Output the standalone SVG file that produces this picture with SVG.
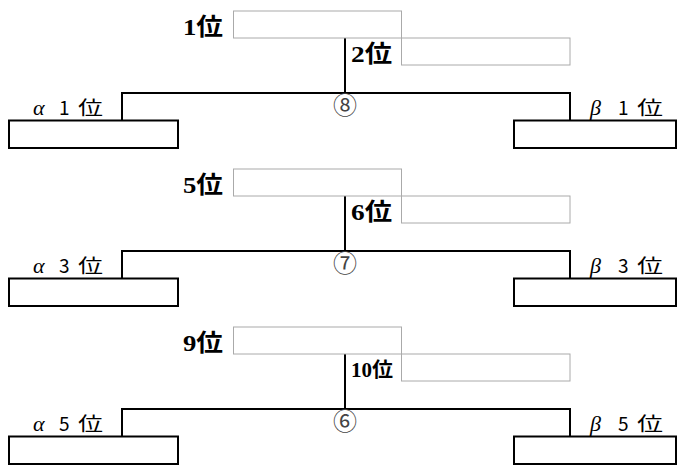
<svg xmlns="http://www.w3.org/2000/svg" width="681" height="466" viewBox="0 0 681 466">
<style>
.slot{fill:#fff;stroke:#aaa;stroke-width:1}
.team{fill:#fff;stroke:#000;stroke-width:2}
.conn{fill:none;stroke:#000;stroke-width:2}
.rk{font-family:"Liberation Serif","Noto Sans CJK JP",serif;font-size:24px;font-weight:bold;fill:#000}
.rks{font-family:"Liberation Serif","Noto Sans CJK JP",serif;font-size:20px;font-weight:bold;fill:#000}
.gr{font-family:"Liberation Serif","DejaVu Serif",serif;font-style:italic;font-size:22px;fill:#000}
.dg{font-family:"Noto Sans CJK JP",sans-serif;font-size:19px;fill:#000}
.cn{font-family:"Noto Sans CJK JP","DejaVu Sans",sans-serif;font-size:24px;fill:#444;text-anchor:middle}
</style>
<g id="connectors">
<path class="conn" d="M345,38 V93 M122,120 V93 H570 V120"/>
<path class="conn" d="M345,196 V251 M122,279 V251 H570 V279"/>
<path class="conn" d="M345,354 V409 M122,437 V409 H570 V437"/>
</g>
<!-- match 8 -->
<g id="slot1"><rect class="slot" x="233.5" y="11" width="168" height="27"/><text class="rk" x="183" y="35" textLength="40" lengthAdjust="spacingAndGlyphs">1位</text></g>
<g id="slot2"><rect class="slot" x="401.5" y="38" width="168.5" height="27"/><text class="rk" x="351" y="62" textLength="41" lengthAdjust="spacingAndGlyphs">2位</text></g>
<g id="alpha1"><rect class="team" x="9" y="120.5" width="169" height="27.5"/><text class="gr" x="33" y="115">α</text><text class="dg" x="59" y="115">1</text><text class="dg" x="78" y="115" textLength="25" lengthAdjust="spacingAndGlyphs">位</text></g>
<g id="beta1"><rect class="team" x="514" y="120.5" width="162" height="27.5"/><text class="gr" x="590" y="115">β</text><text class="dg" x="618" y="115">1</text><text class="dg" x="637" y="115" textLength="26" lengthAdjust="spacingAndGlyphs">位</text></g>
<g id="match8"><text class="cn" x="345" y="114">⑧</text></g>
<!-- match 7 -->
<g id="slot5"><rect class="slot" x="233.5" y="169" width="168" height="27"/><text class="rk" x="183" y="193" textLength="40" lengthAdjust="spacingAndGlyphs">5位</text></g>
<g id="slot6"><rect class="slot" x="401.5" y="196" width="168.5" height="27"/><text class="rk" x="351" y="220" textLength="41" lengthAdjust="spacingAndGlyphs">6位</text></g>
<g id="alpha3"><rect class="team" x="9" y="278.5" width="169" height="27.5"/><text class="gr" x="33" y="273">α</text><text class="dg" x="59" y="273">3</text><text class="dg" x="78" y="273" textLength="25" lengthAdjust="spacingAndGlyphs">位</text></g>
<g id="beta3"><rect class="team" x="514" y="278.5" width="162" height="27.5"/><text class="gr" x="590" y="273">β</text><text class="dg" x="618" y="273">3</text><text class="dg" x="637" y="273" textLength="26" lengthAdjust="spacingAndGlyphs">位</text></g>
<g id="match7"><text class="cn" x="345" y="272">⑦</text></g>
<!-- match 6 -->
<g id="slot9"><rect class="slot" x="233.5" y="327" width="168" height="27"/><text class="rk" x="183" y="351" textLength="40" lengthAdjust="spacingAndGlyphs">9位</text></g>
<g id="slot10"><rect class="slot" x="401.5" y="354" width="168.5" height="27"/><text class="rks" x="351" y="377" textLength="42" lengthAdjust="spacingAndGlyphs">10位</text></g>
<g id="alpha5"><rect class="team" x="9" y="436.5" width="169" height="27.5"/><text class="gr" x="33" y="431">α</text><text class="dg" x="59" y="431">5</text><text class="dg" x="78" y="431" textLength="25" lengthAdjust="spacingAndGlyphs">位</text></g>
<g id="beta5"><rect class="team" x="514" y="436.5" width="162" height="27.5"/><text class="gr" x="590" y="431">β</text><text class="dg" x="618" y="431">5</text><text class="dg" x="637" y="431" textLength="26" lengthAdjust="spacingAndGlyphs">位</text></g>
<g id="match6"><text class="cn" x="345" y="430">⑥</text></g>
</svg>
